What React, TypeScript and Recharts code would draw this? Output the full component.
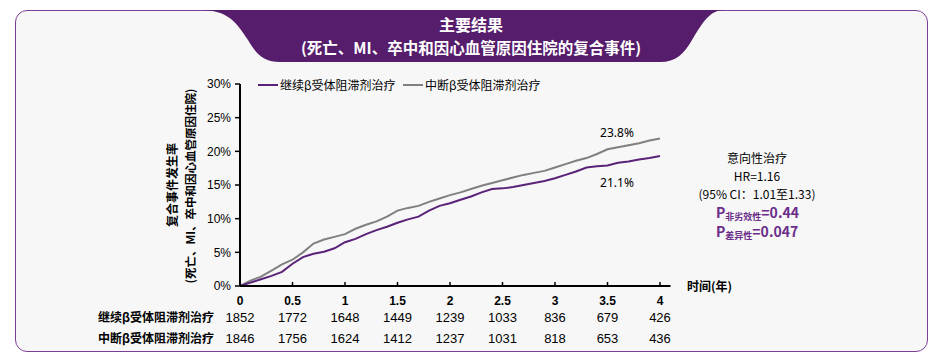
import { LineChart, Line, XAxis, YAxis } from "recharts";

// time grid (years) and cumulative event rates (%)
const years = [
  0, 0.1, 0.2, 0.3, 0.4, 0.5, 0.6, 0.7, 0.8, 0.9, 1.0, 1.1, 1.2, 1.3, 1.4,
  1.5, 1.6, 1.7, 1.8, 1.9, 2.0, 2.1, 2.2, 2.3, 2.4, 2.5, 2.6, 2.7, 2.8, 2.9,
  3.0, 3.1, 3.2, 3.3, 3.4, 3.5, 3.6, 3.7, 3.8, 3.9, 4.0,
];
const continuedPct = [
  0, 0.5, 1.0, 1.5, 2.1, 3.3, 4.3, 4.8, 5.1, 5.6, 6.5, 7.0, 7.7, 8.3, 8.8,
  9.4, 9.9, 10.3, 11.2, 11.9, 12.3, 12.8, 13.3, 13.9, 14.4, 14.5, 14.7, 15.0,
  15.3, 15.6, 16.0, 16.5, 17.0, 17.6, 17.8, 17.9, 18.3, 18.5, 18.8, 19.0, 19.3,
];
const stoppedPct = [
  0, 0.8, 1.4, 2.3, 3.2, 3.9, 5.0, 6.3, 6.9, 7.3, 7.7, 8.5, 9.1, 9.6, 10.3,
  11.2, 11.6, 11.9, 12.5, 13.0, 13.5, 13.9, 14.4, 14.9, 15.3, 15.7, 16.1, 16.5,
  16.8, 17.1, 17.6, 18.1, 18.6, 19.0, 19.6, 20.3, 20.6, 20.9, 21.2, 21.6, 21.9,
];

const seriesNames = ["继续β受体阻滞剂治疗", "中断β受体阻滞剂治疗"];
const xTicks = [0, 0.5, 1, 1.5, 2, 2.5, 3, 3.5, 4];
const yTicks = [0, 5, 10, 15, 20, 25, 30];
const continuedAtRisk = [1852, 1772, 1648, 1449, 1239, 1033, 836, 679, 426];
const stoppedAtRisk = [1846, 1756, 1624, 1412, 1237, 1031, 818, 653, 436];

const PURPLE = "#5a2278";
const GRAY = "#808080";
const CJK = '"Noto Sans CJK SC", "Noto Sans", sans-serif';
const ARIAL = '"Liberation Sans", Arial, sans-serif';
const NARROW = '"Liberation Sans Narrow", "Liberation Sans", sans-serif';

const data = years.map((t, i) => ({
  t,
  continued: continuedPct[i],
  stopped: stoppedPct[i],
}));

const XTick = (props: any) => {
  const { x, y, payload } = props;
  const i = xTicks.indexOf(payload.value);
  return (
    <g>
      <line x1={x} x2={x} y1={y} y2={y - 4} stroke="#000" strokeWidth={1.5} />
      <text x={x} y={y + 19} textAnchor="middle" fontFamily={ARIAL} fontWeight="bold" fontSize={12} fill="#000">
        {payload.value}
      </text>
      <text x={x} y={y + 36} textAnchor="middle" fontFamily={NARROW} fontSize={13} fill="#000">
        {continuedAtRisk[i]}
      </text>
      <text x={x} y={y + 57} textAnchor="middle" fontFamily={NARROW} fontSize={13} fill="#000">
        {stoppedAtRisk[i]}
      </text>
    </g>
  );
};

export default function App() {
  return (
    <div style={{ position: "absolute", left: 0, top: 0, width: 935, height: 355, background: "#fff" }}>
      <div
        style={{
          position: "absolute",
          left: 15,
          top: 10,
          width: 911,
          height: 340,
          border: "1.5px solid #7b3f98",
          borderRadius: 12,
          background: "#f7f7f7",
        }}
      />
      <div style={{ position: "absolute", left: 0, top: 0 }}>
        <LineChart width={935} height={355} data={data} margin={{ top: 84, right: 264.5, bottom: 0, left: 0 }}>
          <XAxis
            dataKey="t"
            type="number"
            domain={[0, 4.1]}
            ticks={xTicks}
            interval={0}
            height={69}
            tickLine={false}
            tickSize={0}
            tickMargin={0}
            axisLine={{ stroke: "#000", strokeWidth: 2 }}
            tick={<XTick />}
          />
          <YAxis
            type="number"
            domain={[0, 30]}
            ticks={yTicks}
            width={240}
            tickFormatter={(v: number) => `${v}%`}
            tickSize={5}
            tickMargin={4}
            tickLine={{ stroke: "#000", strokeWidth: 1.5 }}
            axisLine={{ stroke: "#000", strokeWidth: 2 }}
            tick={{ fill: "#000", fontSize: 12, fontFamily: ARIAL }}
          />
          <Line type="linear" dataKey="stopped" name={seriesNames[1]} stroke={GRAY} strokeWidth={2} dot={false} isAnimationActive={false} />
          <Line type="linear" dataKey="continued" name={seriesNames[0]} stroke={PURPLE} strokeWidth={2} dot={false} isAnimationActive={false} />
        </LineChart>
      </div>
      <svg width={935} height={355} style={{ position: "absolute", left: 0, top: 0, pointerEvents: "none" }}>
        {/* title banner */}
        <path
          d="M200,10 C228,10 236,22 248,40 C256,54 264,62 280,62 L660,62 C676,62 684,54 692,40 C703,22 710,10 724,10 Z"
          fill="#561d6c"
        />
        <text x={471} y={31} textAnchor="middle" fontFamily={CJK} fontWeight="bold" fontSize={16} fill="#fff">
          主要结果
        </text>
        <text x={471} y={54} textAnchor="middle" fontFamily={CJK} fontWeight="bold" fontSize={15.5} fill="#fff">
          (死亡、MI、卒中和因心血管原因住院的复合事件)
        </text>

        {/* legend */}
        <line x1={258} x2={278} y1={85} y2={85} stroke={PURPLE} strokeWidth={2} />
        <text x={280} y={89.5} fontFamily={CJK} fontSize={12} fill="#000">{seriesNames[0]}</text>
        <line x1={403} x2={423} y1={85} y2={85} stroke={GRAY} strokeWidth={2} />
        <text x={425} y={89.5} fontFamily={CJK} fontSize={12} fill="#000">{seriesNames[1]}</text>

        {/* y axis title */}
        <text transform="translate(177,185) rotate(-90)" textAnchor="middle" fontFamily={CJK} fontWeight="bold" fontSize={12} fill="#000">
          复合事件发生率
        </text>
        <text transform="translate(195,186) rotate(-90)" textAnchor="middle" fontFamily={CJK} fontWeight="bold" fontSize={11.5} fill="#000">
          (死亡、MI、卒中和因心血管原因住院)
        </text>

        {/* x axis title */}
        <text x={687} y={291} fontFamily={CJK} fontWeight="bold" fontSize={12} fill="#000">时间(年)</text>

        {/* at-risk row labels */}
        <text x={214} y={322} textAnchor="end" fontFamily={CJK} fontWeight="bold" fontSize={12} fill="#000">{seriesNames[0]}</text>
        <text x={214} y={343} textAnchor="end" fontFamily={CJK} fontWeight="bold" fontSize={12} fill="#000">{seriesNames[1]}</text>

        {/* end labels */}
        <text x={617} y={137} textAnchor="middle" fontFamily='"Noto Sans", sans-serif' fontSize={12} fill="#000">23.8%</text>
        <text x={617} y={187} textAnchor="middle" fontFamily='"Noto Sans", sans-serif' fontSize={12} fill="#000">21.1%</text>

        {/* stats */}
        <text x={757} y={163} textAnchor="middle" fontFamily={CJK} fontSize={12} fill="#000">意向性治疗</text>
        <text x={757} y={181} textAnchor="middle" fontFamily={CJK} fontSize={12} fill="#000">HR=1.16</text>
        <text x={757} y={199} textAnchor="middle" fontFamily={CJK} fontSize={12} fill="#000">(95% CI：1.01至1.33)</text>
        <text x={716} y={218} fontFamily={CJK} fontWeight="bold" fill="#6b2d8a">
          <tspan fontSize={14}>P</tspan>
          <tspan fontSize={9} dy={2}>非劣效性</tspan>
          <tspan fontSize={14} dy={-2}>=0.44</tspan>
        </text>
        <text x={716} y={237} fontFamily={CJK} fontWeight="bold" fill="#6b2d8a">
          <tspan fontSize={14}>P</tspan>
          <tspan fontSize={9} dy={2}>差异性</tspan>
          <tspan fontSize={14} dy={-2}>=0.047</tspan>
        </text>
      </svg>
    </div>
  );
}
